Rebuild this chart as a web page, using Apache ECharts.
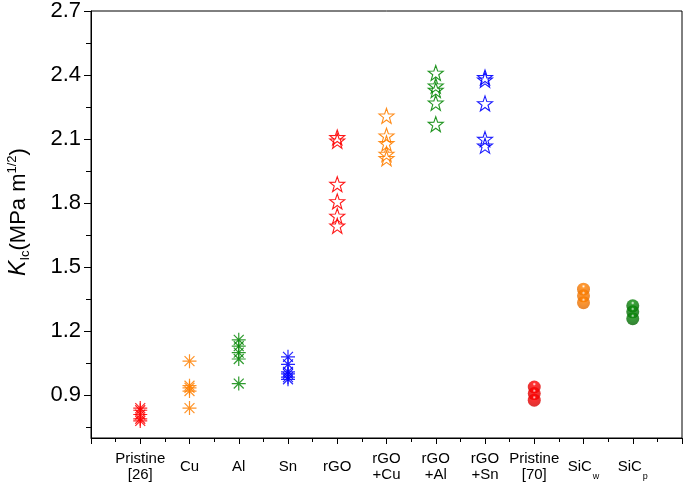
<!DOCTYPE html>
<html><head><meta charset="utf-8">
<script src="https://cdn.jsdelivr.net/npm/echarts@6/dist/echarts.min.js"></script>
<style>html,body{margin:0;padding:0;background:#fff}#c{width:685px;height:489px}</style>
</head><body><div id="c"></div>
<script>
var categories = ['Pristine\n[26]','Cu','Al','Sn','rGO','rGO\n+Cu','rGO\n+Al','rGO\n+Sn','Pristine\n[70]','SiC_w','SiC_p'];
var pristine26 = [0.84, 0.83, 0.81, 0.79, 0.78];
var cu = [1.06, 0.945, 0.935, 0.92, 0.84];
var al = [1.16, 1.13, 1.10, 1.07, 0.955];
var sn = [1.08, 1.045, 1.01, 1.0, 0.985, 0.975];
var rgo = [2.108, 2.092, 1.889, 1.808, 1.74, 1.694];
var rgoCu = [2.209, 2.116, 2.08, 2.03, 2.01];
var rgoAl = [2.41, 2.35, 2.33, 2.27, 2.17];
var rgoSn = [2.389, 2.378, 2.267, 2.10, 2.069];
var pristine70 = [0.939, 0.908, 0.877];
var sicW = [1.397, 1.366, 1.334];
var sicP = [1.319, 1.291, 1.259];
var yMajorTicks = [0.9, 1.2, 1.5, 1.8, 2.1, 2.4, 2.7];
var yMinorTicks = [0.75, 1.05, 1.35, 1.65, 1.95, 2.25, 2.55];

var RED='#ff0000', ORANGE='#ff8000', GREEN='#0a8a0a', BLUE='#0000ff';
var ASTER='path://M5 0L5 10M0 5L10 5M1.46 1.46L8.54 8.54M8.54 1.46L1.46 8.54';
var STAR='path://M10 0L12.35 6.76L19.51 6.91L13.8 11.24L15.88 18.09L10 14L4.12 18.09L6.2 11.24L0.49 6.91L7.65 6.76Z';
var FONT='Liberation Sans, Arial';

function pts(idx, vals){ return vals.map(function(v){ return [idx+1, v]; }); }
function aster(idx, vals, col){
  return {type:'scatter', data:pts(idx,vals), symbol:ASTER, symbolSize:14,
    itemStyle:{color:'rgba(0,0,0,0)', borderColor:col, borderWidth:1.2, opacity:0.85}};
}
function star(idx, vals, col){
  return {type:'scatter', data:pts(idx,vals), symbol:STAR, symbolSize:15,
    itemStyle:{color:'rgba(0,0,0,0)', borderColor:col, borderWidth:1.1, opacity:0.9}};
}
function sphere(idx, vals, col, dark){
  return {type:'scatter', data:pts(idx,vals), symbol:'circle', symbolSize:13,
    itemStyle:{color:{type:'radial', x:0.5, y:0.28, r:0.75, colorStops:[
      {offset:0, color:'#ffffff'},{offset:0.18, color:col},{offset:1, color:dark}]}}};
}

var chart = echarts.init(document.getElementById('c'));
chart.setOption({
  animation:false,
  grid:{left:91, top:11, right:2, bottom:51, show:true, borderColor:'#000', borderWidth:1},
  xAxis:{type:'value', min:0, max:12, interval:1,
    axisLine:{lineStyle:{color:'#000', width:1}},
    axisTick:{inside:false, length:6, lineStyle:{color:'#000'}},
    minorTick:{show:true, splitNumber:2, length:4, lineStyle:{color:'#000'}},
    splitLine:{show:false},
    axisLabel:{margin:13, color:'#000', fontFamily:FONT, fontSize:15,
      formatter:function(v){
        if(v<1||v>11) return '';
        var c = categories[v-1];
        if(c==='SiC_w') return '{s|SiC}{sub|w}';
        if(c==='SiC_p') return '{s|SiC}{sub|p}';
        if(c.indexOf('\n')>=0) return '{t|'+c.replace('\n','}\n{t|')+'}';
        return '{s|'+c+'}';
      },
      rich:{
        t:{fontSize:15, lineHeight:16, color:'#000', fontFamily:FONT},
        s:{fontSize:15, lineHeight:32, color:'#000', fontFamily:FONT},
        sub:{fontSize:9, lineHeight:32, color:'#000', verticalAlign:'bottom', padding:[0,0,2,1], fontFamily:FONT}
      }
    }
  },
  yAxis:[{type:'value', min:0.7, max:2.7,
    axisLine:{show:true, lineStyle:{color:'#000', width:1}},
    axisTick:{show:true, inside:false, length:7, customValues:yMajorTicks, lineStyle:{color:'#000'}},
    axisLabel:{customValues:yMajorTicks, margin:10, color:'#000', fontSize:22, fontFamily:FONT,
      formatter:function(v){ return v.toFixed(1); }},
    splitLine:{show:false}
  },{type:'value', min:0.7, max:2.7, position:'left',
    axisLine:{show:false},
    axisTick:{show:true, inside:false, length:5, customValues:yMinorTicks, lineStyle:{color:'#000'}},
    axisLabel:{show:false}, splitLine:{show:false}
  }],
  graphic:[{type:'text', rotation:Math.PI/2, x:19, y:212,
    style:{text:'{k|K}{sub|Ic}{n|(MPa m}{sup|1/2}{n|)}', fill:'#000', align:'center', verticalAlign:'middle',
      rich:{
        k:{fontSize:23, fontStyle:'italic', fontFamily:FONT, fill:'#000', lineHeight:26},
        n:{fontSize:22, fontFamily:FONT, fill:'#000', lineHeight:26},
        sub:{fontSize:13, fontFamily:FONT, fill:'#000', verticalAlign:'bottom', lineHeight:26, padding:[14,0,0,0]},
        sup:{fontSize:13, fontFamily:FONT, fill:'#000', verticalAlign:'top', lineHeight:26, padding:[0,0,14,0]}
      }}
  }],
  series:[
    aster(0, pristine26, RED),
    aster(1, cu, ORANGE),
    aster(2, al, GREEN),
    aster(3, sn, BLUE),
    star(4, rgo, RED),
    star(5, rgoCu, ORANGE),
    star(6, rgoAl, GREEN),
    star(7, rgoSn, BLUE),
    sphere(8, pristine70, RED, '#d00000'),
    sphere(9, sicW, ORANGE, '#e06800'),
    sphere(10, sicP, GREEN, '#006000')
  ]
});
</script></body></html>
